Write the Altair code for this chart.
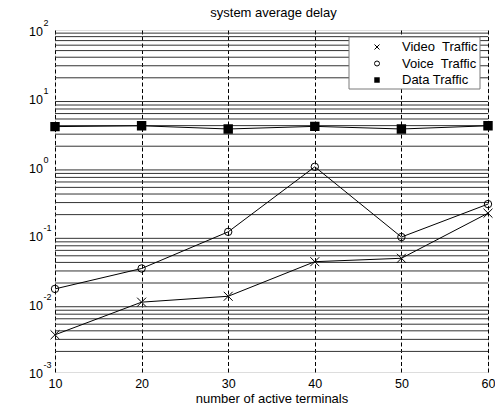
import altair as alt
import pandas as pd

terminals = [10, 20, 30, 40, 50, 60]
video = [0.0035, 0.0105, 0.0128, 0.041, 0.046, 0.21]
voice = [0.0164, 0.0326, 0.112, 1.0, 0.094, 0.285]
data_traffic = [3.87, 3.98, 3.57, 3.9, 3.57, 3.98]
series_names = ["Video\u00a0 Traffic", "Voice\u00a0 Traffic", "Data Traffic"]
decades = [-3, -2, -1, 0, 1, 2]
x_ticks = [10, 20, 30, 40, 50, 60]
title_text = "system average delay"

FONT = "Liberation Sans"
FS = 13
TFS = 12.5

rows = []
for name, vals in zip(series_names, [video, voice, data_traffic]):
    for t, v in zip(terminals, vals):
        rows.append({"terminals": t, "delay": v, "series": name})
df = pd.DataFrame(rows)

minor_df = pd.DataFrame({"v": [m * 10.0 ** d for d in decades[:-1] for m in range(2, 10)]})
dec_df = pd.DataFrame({"v": [10.0 ** d for d in decades],
                       "base": ["10"] * len(decades),
                       "exp": [str(d) for d in decades]})

W, H = 433, 342
yscale = alt.Scale(type="log", domain=[0.001, 100], nice=False)
xscale = alt.Scale(domain=[10, 60], nice=False)

base = alt.Chart(df)

x_enc = alt.X("terminals:Q", scale=xscale,
              axis=alt.Axis(values=x_ticks, grid=True, gridDash=[4, 2.5], gridColor="black",
                            gridWidth=1, gridOpacity=1, domain=False, ticks=False,
                            labelFlush=False, labelOverlap=False,
                            labelFont=FONT, labelFontSize=TFS, labelColor="black", labelPadding=5,
                            title="number of active terminals", titleFont=FONT, titleFontSize=FS,
                            titleFontWeight="normal", titleColor="black", titlePadding=3))
y_enc = alt.Y("delay:Q", scale=yscale,
              axis=alt.Axis(values=[10.0 ** d for d in decades], grid=True, gridDash=[4, 2.5],
                            gridColor="black", gridWidth=1, gridOpacity=1, labels=False,
                            ticks=False, domain=False,
                            title="system average delay (sec.)", titleFont=FONT, titleFontSize=FS,
                            titleFontWeight="normal", titleColor="black",
                            titleX=-41, titleY=H / 2, titleAngle=-90, titleBaseline="middle",
                            titleAlign="center"))

minor = alt.Chart(minor_df).mark_rule(color="#333333", strokeWidth=1).encode(
    y=alt.Y("v:Q", scale=yscale, axis=None))

lines = base.mark_line(color="black", strokeWidth=1).encode(
    x=x_enc, y=y_enc, detail="series:N")

xpath = "M -1 -1 L 1 1 M -1 1 L 1 -1"
pts_video = base.transform_filter(alt.datum.series == series_names[0]).mark_point(
    shape=xpath, filled=False, stroke="black", strokeWidth=1, size=80, opacity=1).encode(
    x=alt.X("terminals:Q", scale=xscale), y=alt.Y("delay:Q", scale=yscale))
pts_voice = base.transform_filter(alt.datum.series == series_names[1]).mark_point(
    shape="circle", filled=False, stroke="black", strokeWidth=1, size=55, opacity=1).encode(
    x=alt.X("terminals:Q", scale=xscale), y=alt.Y("delay:Q", scale=yscale))
pts_data = base.transform_filter(alt.datum.series == series_names[2]).mark_point(
    shape="square", filled=True, fill="black", stroke="black", size=55, opacity=1).encode(
    x=alt.X("terminals:Q", scale=xscale), y=alt.Y("delay:Q", scale=yscale))

ylab_base = alt.Chart(dec_df).mark_text(font=FONT, fontSize=TFS, align="right", baseline="middle",
                                        dy=2, color="black").encode(
    x=alt.value(-12), y=alt.Y("v:Q", scale=yscale, axis=None), text="base:N")
ylab_exp = alt.Chart(dec_df).mark_text(font=FONT, fontSize=9, align="left", baseline="middle",
                                       dy=-7, color="black").encode(
    x=alt.value(-11.5), y=alt.Y("v:Q", scale=yscale, axis=None), text="exp:N")

one = pd.DataFrame({"a": [0]})
title_mark = alt.Chart(one).mark_text(text=title_text, font=FONT, fontSize=FS, align="center",
                                      baseline="middle", color="black").encode(
    x=alt.value(W / 2 + 2), y=alt.value(-17))

leg_box = alt.Chart(one).mark_rect(fill="white", stroke="#7a7a7a", strokeWidth=1).encode(
    x=alt.value(294), x2=alt.value(425), y=alt.value(7), y2=alt.value(59))

leg_rows = [17, 33.5, 50]
leg_layers = [leg_box]
for i, name in enumerate(series_names):
    leg_layers.append(alt.Chart(one).mark_text(text=name, font=FONT, fontSize=FS, align="left",
                                               baseline="middle", color="black").encode(
        x=alt.value(347), y=alt.value(leg_rows[i])))
leg_layers.append(alt.Chart(one).mark_point(shape=xpath, filled=False, stroke="black",
                                            strokeWidth=1, size=25, opacity=1).encode(
    x=alt.value(322), y=alt.value(leg_rows[0])))
leg_layers.append(alt.Chart(one).mark_point(shape="circle", filled=False, stroke="black",
                                            strokeWidth=1, size=25, opacity=1).encode(
    x=alt.value(322), y=alt.value(leg_rows[1])))
leg_layers.append(alt.Chart(one).mark_point(shape="square", filled=True, fill="black",
                                            size=30, opacity=1).encode(
    x=alt.value(322), y=alt.value(leg_rows[2])))

chart = alt.layer(
    minor, lines, pts_video, pts_voice, pts_data, ylab_base, ylab_exp, title_mark, *leg_layers
).properties(
    width=W, height=H,
    padding={"left": 55, "top": 30, "right": 7, "bottom": 37},
    autosize=alt.AutoSizeParams(type="none"),
).configure_view(stroke=None).configure(background="white")

chart.save("out.html", embed_options={"renderer": "svg", "actions": False})
